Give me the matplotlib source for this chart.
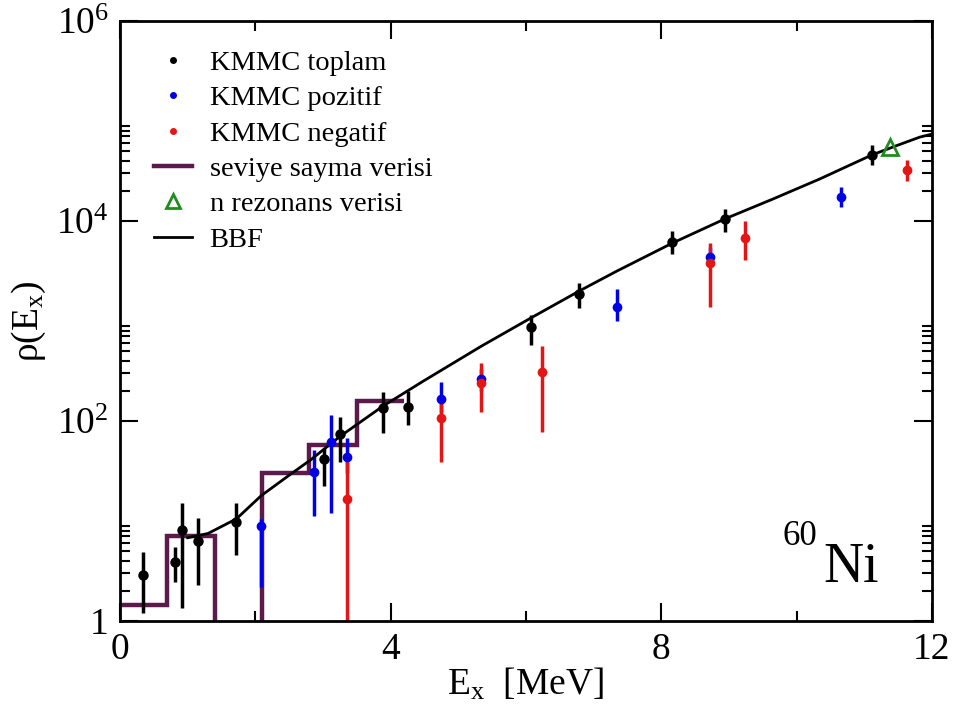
import numpy as np
import matplotlib
matplotlib.use('Agg')
import matplotlib.pyplot as plt
from matplotlib.lines import Line2D
from matplotlib.ticker import FixedLocator, FixedFormatter, NullFormatter

plt.rcParams['font.family'] = 'Liberation Serif'
plt.rcParams['mathtext.fontset'] = 'custom'
plt.rcParams['mathtext.rm'] = 'Liberation Serif'
plt.rcParams['mathtext.it'] = 'Liberation Serif:italic'

# KMMC toplam (total)
tot_x = [0.34, 0.82, 0.91, 1.15, 1.72, 3.02, 3.25, 3.88, 4.26, 6.07, 6.79, 8.16, 8.94, 11.11]
tot_y = [2.9, 3.9, 8.1, 6.3, 9.8, 41.7, 74, 135, 138, 875, 1860, 6200, 10500, 45700]
tot_lo = [1.2, 2.45, 1.35, 2.3, 4.6, 22.4, 38.9, 76, 91, 575, 1350, 4680, 7760, 36300]
tot_hi = [4.9, 5.5, 15.1, 10.7, 15.1, 53.7, 110, 195, 200, 1150, 2400, 7940, 13200, 57500]

# KMMC pozitif
pos_x = [2.09, 2.86, 3.12, 3.36, 4.74, 5.34, 7.35, 8.72, 10.65]
pos_y = [8.9, 30.7, 62, 44, 166, 263, 1370, 4390, 17200]
pos_lo = [2.2, 11.2, 12, 30, 120, 200, 1000, 3500, 13800]
pos_hi = [10.5, 51, 114, 68, 245, 330, 2100, 5500, 22000]

# KMMC negatif
neg_x = [3.36, 4.74, 5.34, 6.24, 8.72, 9.23, 11.63]
neg_y = [16.5, 108, 238, 311, 3820, 6700, 32000]
neg_lo = [0.1, 38.9, 123, 77.6, 1380, 4070, 25000]
neg_hi = [40, 166, 380, 562, 6030, 9900, 40700]

# seviye sayma verisi (level counting), bin edges and densities
lvl_edges = [0.0, 0.7, 1.4, 2.1, 2.8, 3.5, 4.2]
lvl_rho = [1.43, 7.1, 0.0, 30, 57, 157]

# n rezonans verisi
res_x = [11.38]
res_y = [54500]

# BBF curve
bbf_x = [1.0, 1.3, 1.72, 2.09, 2.51, 2.82, 3.25, 3.88, 4.48, 5.34, 6.07, 6.79,
         7.34, 8.16, 8.94, 9.65, 10.34, 11.11, 11.5, 11.82, 12.0]
bbf_y = [6.8, 7.5, 10.5, 18, 29, 41, 70, 140, 250, 560, 1070, 2000,
         3150, 6000, 10500, 16600, 26300, 45700, 57500, 69000, 74000]

purple = '#5c1a4c'
green = '#1e8c1e'

fig = plt.figure(figsize=(9.59, 7.15), dpi=100)
ax = fig.add_axes([120 / 959, 94 / 715, 812 / 959, 600 / 715])
ax.set_yscale('log')


def draw_err(x, y, lo, hi, color, ms):
    y = np.array(y)
    yerr = [y - np.array(lo), np.array(hi) - y]
    ax.errorbar(x, y, yerr=yerr, fmt='o', color=color, ms=ms, elinewidth=2.5,
                capsize=0, mew=0)


draw_err(tot_x, tot_y, tot_lo, tot_hi, 'black', 7.5)
draw_err(pos_x, pos_y, pos_lo, pos_hi, '#0000e6', 7)
draw_err(neg_x, neg_y, neg_lo, neg_hi, '#e61414', 7)

rho = np.where(np.array(lvl_rho) > 0, lvl_rho, 1e-3)
ax.stairs(rho, lvl_edges, baseline=None, color=purple, lw=3.2)

ax.plot(bbf_x, bbf_y, color='black', lw=2)
ax.plot(res_x, res_y, ls='none', marker='^', ms=12, mfc='none', mec=green, mew=2)

ax.set_xlim(0, 12)
ax.set_ylim(1, 1e6)

ax.xaxis.set_major_locator(FixedLocator([0, 4, 8, 12]))
ax.xaxis.set_minor_locator(FixedLocator([2, 6, 10]))
ax.yaxis.set_major_locator(FixedLocator([1, 1e2, 1e4, 1e6]))
ax.yaxis.set_major_formatter(FixedFormatter(['1', r'$10^{2}$', r'$10^{4}$', r'$10^{6}$']))
ax.yaxis.set_minor_locator(FixedLocator([k * 10.0 ** e for e in (0, 2, 4) for k in range(2, 10)]))
ax.yaxis.set_minor_formatter(NullFormatter())

ax.tick_params(which='both', direction='in', top=True, right=True, width=1.5,
               labelsize=27, pad=8)
ax.tick_params(which='major', length=13)
ax.tick_params(which='minor', length=7)
for s in ax.spines.values():
    s.set_linewidth(2)

ax.set_xlabel('E$_{\\mathrm{x}}$  [MeV]', fontsize=27, labelpad=0)
ax.set_ylabel('ρ(E$_{\\mathrm{x}}$)', fontsize=27, labelpad=6)

handles = [
    Line2D([], [], ls='none', marker='o', ms=5, color='black', mew=0),
    Line2D([], [], ls='none', marker='o', ms=5, color='#0000e6', mew=0),
    Line2D([], [], ls='none', marker='o', ms=5, color='#e61414', mew=0),
    Line2D([], [], color=purple, lw=3.2),
    Line2D([], [], ls='none', marker='^', ms=10, mfc='none', mec=green, mew=2),
    Line2D([], [], color='black', lw=2),
]
labels = ['KMMC toplam', 'KMMC pozitif', 'KMMC negatif', 'seviye sayma verisi',
          'n rezonans verisi', 'BBF']
ax.legend(handles, labels, loc='upper left', bbox_to_anchor=(154 / 959, 1 - 50 / 715),
          bbox_transform=fig.transFigure, frameon=False, fontsize=20.5,
          handlelength=1.35, handletextpad=0.6, labelspacing=0.33, borderpad=0,
          borderaxespad=0)

fig.text(782 / 959, 1 - 545 / 715, '60', fontsize=25)
fig.text(823 / 959, 1 - 582 / 715, 'Ni', fontsize=40)

fig.savefig('out.png', dpi=100)
